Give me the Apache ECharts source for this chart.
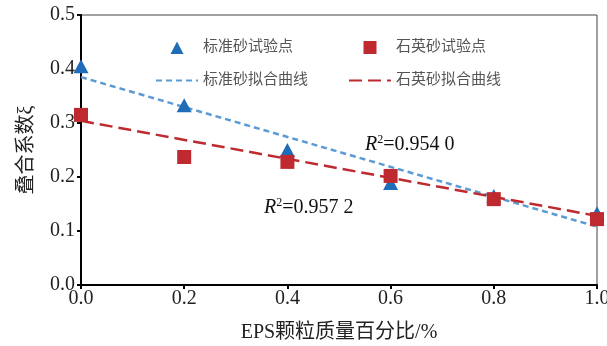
<!DOCTYPE html>
<html><head><meta charset="utf-8">
<script src="https://cdn.jsdelivr.net/npm/echarts@6/dist/echarts.min.js"></script>
<style>html,body{margin:0;padding:0;background:#fff}#c{width:607px;height:346px}</style>
</head><body><div id="c"></div>
<script>
var xValues = [0, 0.2, 0.4, 0.6, 0.8, 1.0];
var standardSand = [0.405, 0.333, 0.250, 0.189, 0.165, 0.133];
var quartzSand = [0.315, 0.237, 0.228, 0.202, 0.159, 0.122];
var fitX = [0, 1.0];
var standardFit = [0.385, 0.108];
var quartzFit = [0.304, 0.128];
var seriesNames = ['标准砂试验点', '石英砂试验点', '标准砂拟合曲线', '石英砂拟合曲线'];
var r2Labels = ['0.954 0', '0.957 2'];

function pairs(xs, ys) { return xs.map(function (x, i) { return [x, ys[i]]; }); }

var serif = '"Liberation Serif", "Times New Roman", "Noto Sans CJK SC", serif';
var cjk = '"Liberation Serif", "Noto Sans CJK SC", serif';
var blue = '#1F6DB8', blueLine = '#5B9BD5', red = '#BE2A2F';

// legend icons: invisible move-to corners keep the 42x14 box so the mark keeps its shape
var triIcon = 'path://M0,0M42,14M14.5,13.5L21,1L27.5,13.5Z';
var sqIcon = 'path://M0,0M42,14M14.5,0.5L27.5,0.5L27.5,13.5L14.5,13.5Z';

var legendText = { fontFamily: cjk, fontSize: 15, color: '#555' };
var r2Rich = {
  i: { fontFamily: serif, fontStyle: 'italic', fontSize: 20, fill: '#111' },
  s: { fontFamily: serif, fontSize: 12, fill: '#111', verticalAlign: 'top', padding: [0, 0, 10, 0] },
  n: { fontFamily: serif, fontSize: 20, fill: '#111' }
};

var chart = echarts.init(document.getElementById('c'));
chart.setOption({
  animation: false,
  grid: { left: 81, right: 10, top: 15, bottom: 61, show: true, borderColor: '#444', borderWidth: 1,
          containLabel: false, outerBoundsMode: 'none' },
  legend: [{
    data: [{ name: seriesNames[0], icon: triIcon }, { name: seriesNames[2], itemStyle: { opacity: 0 } }],
    orient: 'vertical', left: 150, top: 35,
    itemWidth: 42, itemHeight: 14, itemGap: 18, textStyle: legendText
  }, {
    data: [{ name: seriesNames[1], icon: sqIcon }, { name: seriesNames[3], itemStyle: { opacity: 0 } }],
    orient: 'vertical', left: 343, top: 35,
    itemWidth: 42, itemHeight: 14, itemGap: 18, textStyle: legendText
  }],
  xAxis: {
    type: 'value', min: 0, max: 1, interval: 0.2,
    name: 'EPS颗粒质量百分比/%', nameLocation: 'middle', nameGap: 38,
    nameTextStyle: { fontFamily: cjk, fontSize: 20, color: '#222' },
    axisLine: { lineStyle: { color: '#000', width: 2 } },
    axisTick: { show: true, inside: false, length: 4, lineStyle: { color: '#000', width: 2 } },
    axisLabel: { fontFamily: serif, fontSize: 20, color: '#222', margin: 4, formatter: function (v) { return v.toFixed(1); } },
    splitLine: { show: false }
  },
  yAxis: {
    type: 'value', min: 0, max: 0.5, interval: 0.1,
    name: '叠合系数ξ', nameLocation: 'middle', nameGap: 44,
    nameTextStyle: { fontFamily: cjk, fontSize: 20, color: '#222' },
    axisLine: { show: true, lineStyle: { color: '#000', width: 2 } },
    axisTick: { show: true, inside: false, length: 4, lineStyle: { color: '#000', width: 2 } },
    axisLabel: { fontFamily: serif, fontSize: 20, color: '#222', margin: 6, formatter: function (v) { return v.toFixed(1); } },
    splitLine: { show: false }
  },
  series: [{
    name: seriesNames[2], type: 'line', data: pairs(fitX, standardFit), symbol: 'none',
    lineStyle: { color: blueLine, width: 2.5, type: [6, 4] }, itemStyle: { color: blueLine }, z: 2
  }, {
    name: seriesNames[3], type: 'line', data: pairs(fitX, quartzFit), symbol: 'none',
    lineStyle: { color: red, width: 2.5, type: [13, 6] }, itemStyle: { color: red }, z: 2
  }, {
    name: seriesNames[0], type: 'scatter', data: pairs(xValues, standardSand),
    symbol: 'triangle', symbolSize: [15, 14], itemStyle: { color: blue, opacity: 1 }, z: 3
  }, {
    name: seriesNames[1], type: 'scatter', data: pairs(xValues, quartzSand),
    symbol: 'rect', symbolSize: 14, itemStyle: { color: red, opacity: 1 }, z: 4
  }],
  graphic: [{
    type: 'text', left: 365, top: 134,
    style: { text: '{i|R}{s|2}{n|=' + r2Labels[0] + '}', rich: r2Rich }
  }, {
    type: 'text', left: 264, top: 197,
    style: { text: '{i|R}{s|2}{n|=' + r2Labels[1] + '}', rich: r2Rich }
  }]
});
</script></body></html>
